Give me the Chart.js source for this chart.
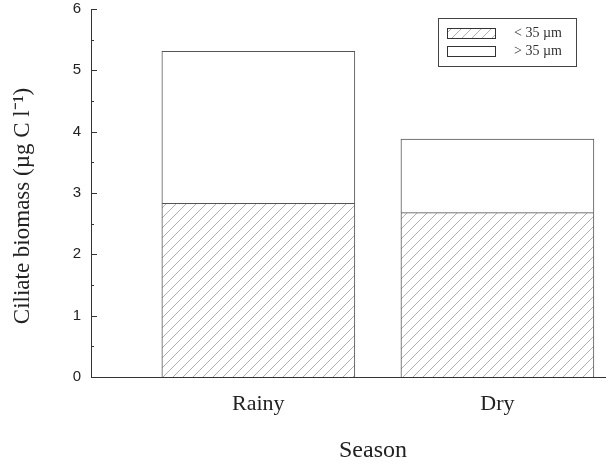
<!DOCTYPE html>
<html>
<head>
<meta charset="utf-8">
<script src="https://cdn.jsdelivr.net/npm/chart.js@4"></script>
<style>
  html, body { margin: 0; padding: 0; background: #fff; }
  #wrap { width: 608px; height: 467px; position: relative; }
</style>
</head>
<body>
<div id="wrap"><canvas id="biomassChart"></canvas></div>
<script>
// data
var categories = ['Rainy', 'Dry'];
var smallCiliates = [2.83, 2.68];   // < 35 µm
var largeCiliates = [2.48, 1.20];   // > 35 µm (stacked on top)
var seriesLabels = ['< 35 \u00b5m', '> 35 \u00b5m'];
var yTicks = [0, 1, 2, 3, 4, 5, 6];
var yTitle = 'Ciliate biomass (\u00b5g C l\u207b\u00b9)';
var xTitle = 'Season';

var serif = "'Liberation Serif', 'Times New Roman', serif";
var sans = "'Liberation Sans', Arial, sans-serif";

// hatch pattern for the small fraction
function makeHatch() {
  var c = document.createElement('canvas');
  c.width = 10; c.height = 10;
  var g = c.getContext('2d');
  g.fillStyle = '#fff';
  g.fillRect(0, 0, 10, 10);
  g.strokeStyle = '#b0b0b0';
  g.lineWidth = 1;
  g.beginPath();
  g.moveTo(0, 10); g.lineTo(10, 0);
  g.moveTo(-1, 1); g.lineTo(1, -1);
  g.moveTo(9, 11); g.lineTo(11, 9);
  g.stroke();
  return g.createPattern(c, 'repeat');
}

var hatch = makeHatch();

// inward tick marks on the y axis (major on integers, minor on halves)
var innerTicks = {
  id: 'innerTicks',
  afterDatasetsDraw: function (chart) {
    var y = chart.scales.y;
    var ctx = chart.ctx;
    var x0 = y.right;
    ctx.save();
    ctx.strokeStyle = '#333';
    ctx.lineWidth = 1;
    ctx.beginPath();
    for (var v = y.min; v <= y.max + 1e-9; v += 0.5) {
      var py = Math.round(y.getPixelForValue(v)) + 0.5;
      var len = (Math.abs(v - Math.round(v)) < 1e-9) ? 6 : 3;
      ctx.moveTo(x0, py);
      ctx.lineTo(x0 + len, py);
    }
    ctx.stroke();
    ctx.restore();
  }
};

// axis titles at their positions in the figure
var axisTitles = {
  id: 'axisTitles',
  afterDraw: function (chart) {
    var ctx = chart.ctx;
    ctx.save();
    ctx.fillStyle = '#222';
    ctx.textAlign = 'center';
    ctx.textBaseline = 'middle';
    ctx.font = '24px ' + serif;
    ctx.fillText(xTitle, 373, 451);
    ctx.font = '23px ' + serif;
    ctx.translate(23, 206);
    ctx.rotate(-Math.PI / 2);
    ctx.fillText(yTitle, 0, 0);
    ctx.restore();
  }
};

// boxed legend in the upper right corner
var boxLegend = {
  id: 'boxLegend',
  afterDraw: function (chart) {
    var ctx = chart.ctx;
    ctx.save();
    ctx.strokeStyle = '#444';
    ctx.lineWidth = 1;
    ctx.strokeRect(438.5, 18.5, 138, 48);
    chart.data.datasets.forEach(function (ds, i) {
      var top = 28 + i * 18;
      ctx.fillStyle = ds.backgroundColor;
      ctx.fillRect(447, top, 48, 10);
      ctx.strokeStyle = '#333';
      ctx.strokeRect(447.5, top + 0.5, 48, 10);
      ctx.fillStyle = '#333';
      ctx.font = '14px ' + serif;
      ctx.textAlign = 'left';
      ctx.textBaseline = 'middle';
      ctx.fillText(ds.label, 514, top + 5);
    });
    ctx.restore();
  }
};

var ctx = document.getElementById('biomassChart').getContext('2d');

new Chart(ctx, {
  type: 'bar',
  data: {
    datasets: [{
      label: seriesLabels[0],
      data: smallCiliates.map(function (v, i) { return { x: i + 1, y: v }; }),
      backgroundColor: hatch,
      borderColor: '#555',
      borderWidth: 1,
      borderSkipped: 'bottom',
      barThickness: 193
    }, {
      label: seriesLabels[1],
      data: largeCiliates.map(function (v, i) { return { x: i + 1, y: v }; }),
      backgroundColor: '#ffffff',
      borderColor: '#555',
      borderWidth: 1,
      borderSkipped: 'bottom',
      barThickness: 193
    }]
  },
  options: {
    responsive: true,
    maintainAspectRatio: false,
    animation: false,
    layout: { padding: { top: 9, right: 3, left: 0, bottom: 0 } },
    plugins: {
      legend: { display: false },
      tooltip: { enabled: false }
    },
    scales: {
      x: {
        type: 'linear',
        stacked: true,
        offset: false,
        min: 0.3,
        max: 2.45,
        afterBuildTicks: function (scale) {
          scale.ticks = categories.map(function (c, i) { return { value: i + 1 }; });
        },
        afterFit: function (scale) { scale.height = 90; },
        grid: { display: false, drawTicks: false },
        border: { display: true, color: '#333', width: 1 },
        ticks: {
          color: '#222',
          padding: 14,
          font: { family: serif, size: 22 },
          callback: function (v) { return categories[v - 1]; }
        }
      },
      y: {
        stacked: true,
        min: 0,
        max: 6,
        afterBuildTicks: function (scale) {
          scale.ticks = yTicks.map(function (v) { return { value: v }; });
        },
        afterFit: function (scale) {
          scale.width = 91;
          scale.paddingTop = 0;
          scale.paddingBottom = 0;
        },
        grid: { display: false, drawTicks: false },
        border: { display: true, color: '#333', width: 1 },
        ticks: {
          color: '#222',
          padding: 10,
          font: { family: sans, size: 15 }
        }
      }
    }
  },
  plugins: [innerTicks, axisTitles, boxLegend]
});
</script>
</body>
</html>
